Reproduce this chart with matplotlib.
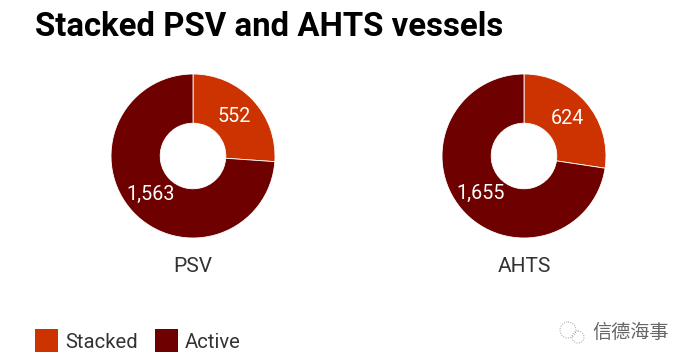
import matplotlib
matplotlib.use("Agg")
import matplotlib.pyplot as plt
from matplotlib.patches import Rectangle, Circle

title = "Stacked PSV and AHTS vessels"
categories = ["PSV", "AHTS"]
series_names = ["Stacked", "Active"]
stacked = [552, 624]
active = [1563, 1655]
colors = ["#CC3300", "#6E0000"]

W, H = 677, 362
plt.rcParams['font.family'] = ['Roboto', 'DejaVu Sans']
fig = plt.figure(figsize=(W/100, H/100), dpi=100)
fig.patch.set_facecolor("white")

bg = fig.add_axes([0, 0, 1, 1], zorder=5)
bg.patch.set_alpha(0)
bg.set_xlim(0, W); bg.set_ylim(H, 0); bg.axis("off")

bg.text(35, 27, title, fontsize=23.7, fontweight="bold", color="black", va="center", ha="left")

centers = [(193, 156), (524, 156)]
R = 82
for i, (cx, cy) in enumerate(centers):
    ax = fig.add_axes([(cx-R-2)/W, 1-(cy+R+2)/H, (2*R+4)/W, (2*R+4)/H], zorder=1)
    vals = [stacked[i], active[i]]
    ax.pie(vals, colors=colors, startangle=90, counterclock=False, radius=R/(R+2),
           wedgeprops=dict(width=R/(R+2)*0.6, edgecolor="white", linewidth=0.6))
    ax.set_xlim(-1, 1); ax.set_ylim(-1, 1)
    bg.text(cx, 266, categories[i], fontsize=15, color="#333333", ha="center", va="center")

label_size = 14.2
bg.text(234.5, 116.5, f"{stacked[0]:,}", fontsize=label_size, color="white", ha="center", va="center")
bg.text(151, 194.5, f"{active[0]:,}", fontsize=label_size, color="white", ha="center", va="center")
bg.text(567, 118.5, f"{stacked[1]:,}", fontsize=label_size, color="white", ha="center", va="center")
bg.text(481, 193.5, f"{active[1]:,}", fontsize=label_size, color="white", ha="center", va="center")

bg.add_patch(Rectangle((35, 329), 23, 23, color=colors[0], lw=0))
bg.text(65, 342, series_names[0], fontsize=14.6, color="#333333", va="center")
bg.add_patch(Rectangle((155, 329), 23, 23, color=colors[1], lw=0))
bg.text(185, 342, series_names[1], fontsize=14.6, color="#333333", va="center")

bg.add_patch(Circle((568, 330), 8, fill=False, ec="#999999", lw=0.7, ls=(0, (1, 1.5))))
bg.add_patch(Circle((578, 337), 6, fill=False, ec="#999999", lw=0.7, ls=(0, (1, 1.5))))
bg.text(592, 332.5, "信德海事", fontsize=13.8, color="#666666", va="center",
        family=['Noto Sans CJK SC', 'DejaVu Sans'])

fig.savefig("out.png", dpi=100)
